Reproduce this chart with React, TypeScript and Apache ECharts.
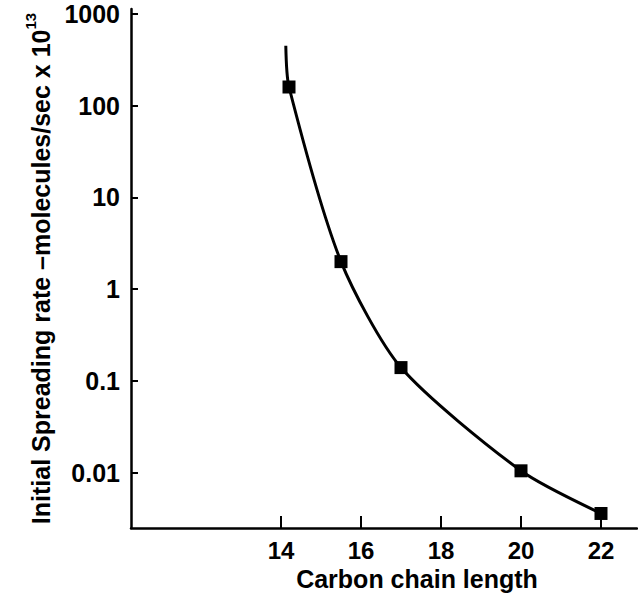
import React, { useEffect, useRef } from "react";
import * as echarts from "echarts";

// Carbon chain length of the measured points
const chainLength = [14.2, 15.5, 17.0, 20.0, 22.0];
// Initial spreading rate (molecules/sec x 10^13)
const spreadingRate = [160, 2.0, 0.14, 0.0105, 0.0036];
// Fitted curve drawn through the points
const curveX = [14.12, 14.2, 15.5, 17.0, 20.0, 22.0];
const curveY = [450, 160, 2.0, 0.14, 0.0105, 0.0036];
// Axis ticks
const xTicks = [14, 16, 18, 20, 22];
const yTicks = [0.01, 0.1, 1, 10, 100, 1000];
const yTickLabels = ["0.01", "0.1", "1", "10", "100", "1000"];

const FONT = "'Liberation Sans', Arial, Helvetica, sans-serif";

export default function App() {
  const ref = useRef<HTMLDivElement>(null);

  useEffect(() => {
    document.body.style.margin = "0";
    if (!ref.current) return;
    const chart = echarts.init(ref.current, undefined, { renderer: "svg" });

    const yLabel = (v: number) => {
      let best = 0;
      let bestD = Infinity;
      yTicks.forEach((t, i) => {
        const d = Math.abs(Math.log10(v) - Math.log10(t));
        if (d < bestD) {
          bestD = d;
          best = i;
        }
      });
      return yTickLabels[best];
    };

    chart.setOption({
      animation: false,
      backgroundColor: "#ffffff",
      grid: { left: 131, right: 1, top: 9, bottom: 69, containLabel: false },
      xAxis: {
        type: "value",
        min: 10.25,
        max: 22.9,
        name: "Carbon chain length",
        nameLocation: "middle",
        nameGap: 30,
        nameTextStyle: {
          fontFamily: FONT,
          fontWeight: "bold",
          fontSize: 25,
          color: "#000",
          padding: [0, 0, 0, 66],
        },
        axisLine: { show: true, onZero: false, lineStyle: { color: "#000", width: 2.5 } },
        axisTick: {
          show: true,
          inside: true,
          length: 12,
          customValues: xTicks,
          lineStyle: { color: "#000", width: 2 },
        },
        axisLabel: {
          customValues: xTicks,
          fontFamily: FONT,
          fontWeight: "bold",
          fontSize: 24,
          color: "#000",
          margin: 10,
        },
        splitLine: { show: false },
      },
      yAxis: {
        type: "log",
        logBase: 10,
        min: 0.0025,
        max: 1133,
        name: "{a|Initial Spreading rate –molecules/sec x 10}{b|13}",
        nameLocation: "middle",
        nameGap: 76,
        nameRotate: 90,
        nameTextStyle: {
          color: "#000",
          rich: {
            a: {
              fontFamily: FONT,
              fontWeight: "bold",
              fontSize: 25,
              color: "#000",
              lineHeight: 30,
              verticalAlign: "bottom",
            },
            b: {
              fontFamily: FONT,
              fontWeight: "bold",
              fontSize: 15,
              color: "#000",
              lineHeight: 30,
              verticalAlign: "top",
            },
          },
        },
        axisLine: { show: true, lineStyle: { color: "#000", width: 2.5 } },
        axisTick: {
          show: true,
          inside: true,
          length: 7,
          customValues: yTicks,
          lineStyle: { color: "#000", width: 2 },
        },
        axisLabel: {
          customValues: yTicks,
          formatter: (v: number) => yLabel(v),
          fontFamily: FONT,
          fontWeight: "bold",
          fontSize: 25,
          color: "#000",
          margin: 11,
        },
        splitLine: { show: false },
        minorTick: { show: false },
      },
      series: [
        {
          type: "line",
          data: curveX.map((x, i) => [x, curveY[i]]),
          smooth: 0.25,
          symbol: "none",
          showSymbol: false,
          lineStyle: { color: "#000", width: 3 },
          z: 2,
        },
        {
          type: "scatter",
          data: chainLength.map((x, i) => [x, spreadingRate[i]]),
          symbol: "rect",
          symbolSize: 13,
          itemStyle: { color: "#000", opacity: 1 },
          z: 3,
        },
      ],
    });

    return () => chart.dispose();
  }, []);

  return <div ref={ref} style={{ width: 638, height: 597 }} />;
}
